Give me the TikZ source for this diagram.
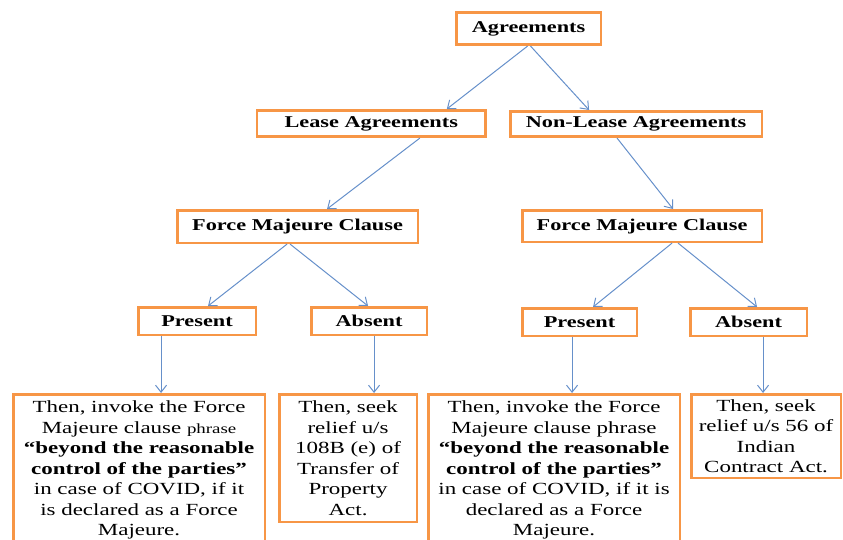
\documentclass[tikz,border=0pt]{standalone}
\usepackage{fontspec}
\setmainfont{Liberation Serif}[FakeStretch=1.35]
\usetikzlibrary{arrows.meta}
\definecolor{boxorange}{HTML}{F79646}
\definecolor{arrowblue}{HTML}{6690CA}
\tikzset{
  box/.style={draw=boxorange, line width=2.6pt, anchor=north west, align=center,
    inner sep=2pt, text=black, font=\fontsize{17}{20.5}\selectfont},
  head/.style={box, font=\bfseries\fontsize{16.5}{20.5}\selectfont},
  conn/.style={draw=arrowblue, line width=1pt, -{Straight Barb[length=7pt,width=11pt]}}
}
\begin{document}
\begin{tikzpicture}[x=1pt,y=-1pt]
\useasboundingbox (0,0) rectangle (843,540);
\clip (0,0) rectangle (843,540);
% level 0
\node[head, minimum width=144.5pt, minimum height=32.5pt] (agree) at (455,11) {Agreements};
% level 1
\node[head, minimum width=228.5pt, minimum height=26.5pt] (lease) at (255.7,109) {Lease Agreements};
\node[head, minimum width=251.5pt, minimum height=25.5pt] (nonlease) at (509,110) {Non-Lease Agreements};
% level 2
\node[head, minimum width=240.5pt, minimum height=32.5pt] (fmcL) at (176,209) {Force Majeure Clause};
\node[head, minimum width=239.5pt, minimum height=31.5pt] (fmcR) at (521,209) {Force Majeure Clause};
% level 3
\node[head, minimum width=117.5pt, minimum height=27.5pt] (presL) at (137,306) {Present};
\node[head, minimum width=115.5pt, minimum height=27.5pt] (absL) at (310,306) {Absent};
\node[head, minimum width=114.5pt, minimum height=27.5pt] (presR) at (521,307) {Present};
\node[head, minimum width=116.5pt, minimum height=27.5pt] (absR) at (689,307) {Absent};
% level 4
\node[box, minimum width=251.5pt, minimum height=152pt] (botL) at (12,393)
  {Then, invoke the Force\\
   Majeure clause {\fontsize{14}{20.5}\selectfont phrase}\\
   \textbf{“beyond the reasonable}\\
   \textbf{control of the parties”}\\
   in case of COVID, if it\\
   is declared as a Force\\
   Majeure.};
\node[box, minimum width=137.5pt, minimum height=127.5pt] (botM) at (278,393)
  {Then, seek\\ relief u/s\\ 108B (e) of\\ Transfer of\\ Property\\ Act.};
\node[box, minimum width=251.5pt, minimum height=152pt] (botR) at (427,393)
  {Then, invoke the Force\\
   Majeure clause phrase\\
   \textbf{“beyond the reasonable}\\
   \textbf{control of the parties”}\\
   in case of COVID, if it is\\
   declared as a Force\\
   Majeure.};
\node[box, minimum width=149.5pt, minimum height=83.5pt] (botFR) at (690,393)
  {Then, seek\\ relief u/s 56 of\\ Indian\\ Contract Act.};
% connectors
\draw[conn] ([xshift=-1pt]agree.south) -- ([xshift=75.6pt]lease.north);
\draw[conn] ([xshift=2pt]agree.south) -- ([xshift=-47pt]nonlease.north);
\draw[conn] ([xshift=48.6pt]lease.south) -- ([xshift=29.5pt]fmcL.north);
\draw[conn] ([xshift=-19pt]nonlease.south) -- ([xshift=31pt]fmcR.north);
\draw[conn] ([xshift=-10.5pt]fmcL.south) -- ([xshift=11pt]presL.north);
\draw[conn] ([xshift=-7.5pt]fmcL.south) -- ([xshift=-1pt]absL.north);
\draw[conn] ([xshift=30pt]fmcR.south) -- ([xshift=13.5pt]presR.north);
\draw[conn] ([xshift=36pt]fmcR.south) -- ([xshift=8.5pt]absR.north);
\draw[conn] ([xshift=-36pt]presL.south) -- ([xshift=-36pt]presL.south |- botL.north);
\draw[conn] ([xshift=5pt]absL.south) -- ([xshift=5pt]absL.south |- botM.north);
\draw[conn] ([xshift=-7.5pt]presR.south) -- ([xshift=-7.5pt]presR.south |- botR.north);
\draw[conn] ([xshift=14.5pt]absR.south) -- ([xshift=14.5pt]absR.south |- botFR.north);
\end{tikzpicture}
\end{document}
